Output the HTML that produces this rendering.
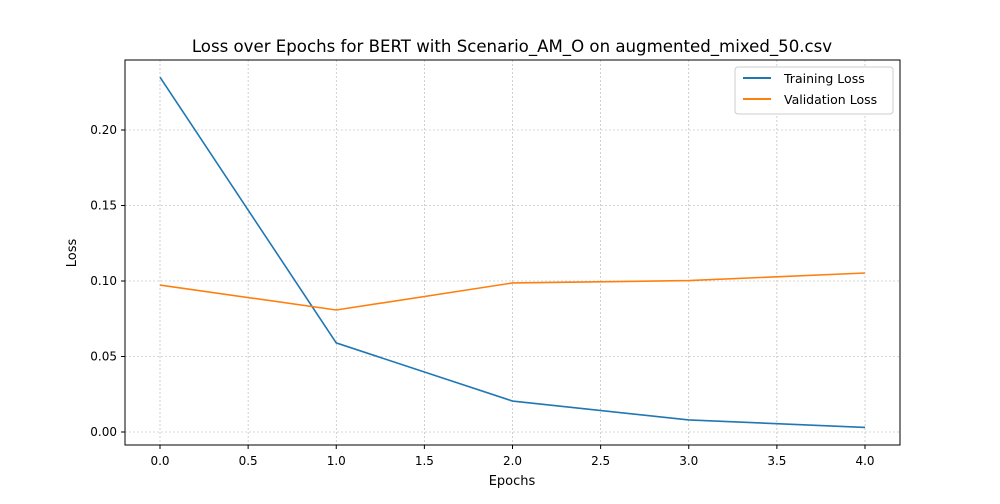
<!DOCTYPE html>
<html><head><meta charset="utf-8"><style>
body{margin:0;background:#fff;font-family:"DejaVu Sans","Liberation Sans",sans-serif;}
svg text{font-family:"DejaVu Sans","Liberation Sans",sans-serif;}
</style></head><body>
<svg id="chart" width="1000" height="500" xmlns="http://www.w3.org/2000/svg">
<rect width="1000" height="500" fill="#fff"/>
<g id="grid"></g>
<g id="axes"></g>
<g id="series"></g>
<rect x="125" y="60" width="775" height="385" fill="none" stroke="#000" stroke-width="1"/>
<text x="512" y="52" text-anchor="middle" font-size="16.6">Loss over Epochs for BERT with Scenario_AM_O on augmented_mixed_50.csv</text>
<text x="512" y="485" text-anchor="middle" font-size="13">Epochs</text>
<text x="76" y="253" text-anchor="middle" font-size="13" transform="rotate(-90 76 253)">Loss</text>
<g>
<rect x="735" y="67" width="158" height="47" fill="#fff" stroke="#ccc" rx="3"/>
<line x1="743" y1="78" x2="771" y2="78" stroke="#1f77b4" stroke-width="2"/>
<text x="784" y="83" font-size="12.5">Training Loss</text>
<line x1="743" y1="99" x2="771" y2="99" stroke="#ff7f0e" stroke-width="2"/>
<text x="784" y="104" font-size="12.5">Validation Loss</text>
</g>
</svg>
<script>
const epochs=[0,1,2,3,4];
const trainLoss=[0.235,0.059,0.0205,0.008,0.003];
const valLoss=[0.0973,0.0808,0.0987,0.1003,0.1053];
const xTicks=[0,0.5,1,1.5,2,2.5,3,3.5,4];
const xTickLabels=["0.0","0.5","1.0","1.5","2.0","2.5","3.0","3.5","4.0"];
const yTicks=[0,0.05,0.1,0.15,0.2];
const yTickLabels=["0.00","0.05","0.10","0.15","0.20"];
const NS="http://www.w3.org/2000/svg";
const X=v=>160+v*176.25;
const Y=v=>432-v*1510;
function mk(t,a,p){const e=document.createElementNS(NS,t);for(const k in a)e.setAttribute(k,a[k]);p.appendChild(e);return e;}
const grid=document.getElementById('grid'),axes=document.getElementById('axes'),series=document.getElementById('series');
xTicks.forEach((v,i)=>{
 const g=mk('line',{x1:X(v),x2:X(v),y1:60,y2:445,stroke:'#b0b0b0','stroke-width':0.6,'stroke-dasharray':'2,2'},grid);
 
 
 const t=mk('line',{x1:X(v),x2:X(v),y1:445,y2:449,stroke:'#000'},axes);
 
 
 const l=mk('text',{x:X(v),y:465,'text-anchor':'middle','font-size':12},axes);
 l.textContent=xTickLabels[i];
 
 
});
yTicks.forEach((v,i)=>{
 const g=mk('line',{x1:125,x2:900,y1:Y(v),y2:Y(v),stroke:'#b0b0b0','stroke-width':0.6,'stroke-dasharray':'2,2'},grid);
 
 
 const t=mk('line',{x1:121,x2:125,y1:Y(v),y2:Y(v),stroke:'#000'},axes);
 
 
 const l=mk('text',{x:117,y:Y(v)+4,'text-anchor':'end','font-size':12},axes);
 l.textContent=yTickLabels[i];
 
 
});
function line(vals,color,name){
 const p=mk('polyline',{points:epochs.map((e,i)=>X(e)+','+Y(vals[i])).join(' '),fill:'none',stroke:color,'stroke-width':1.6},series);
 
 
}
line(trainLoss,'#1f77b4','training-loss-line');
line(valLoss,'#ff7f0e','validation-loss-line');
</script>
</body></html>
